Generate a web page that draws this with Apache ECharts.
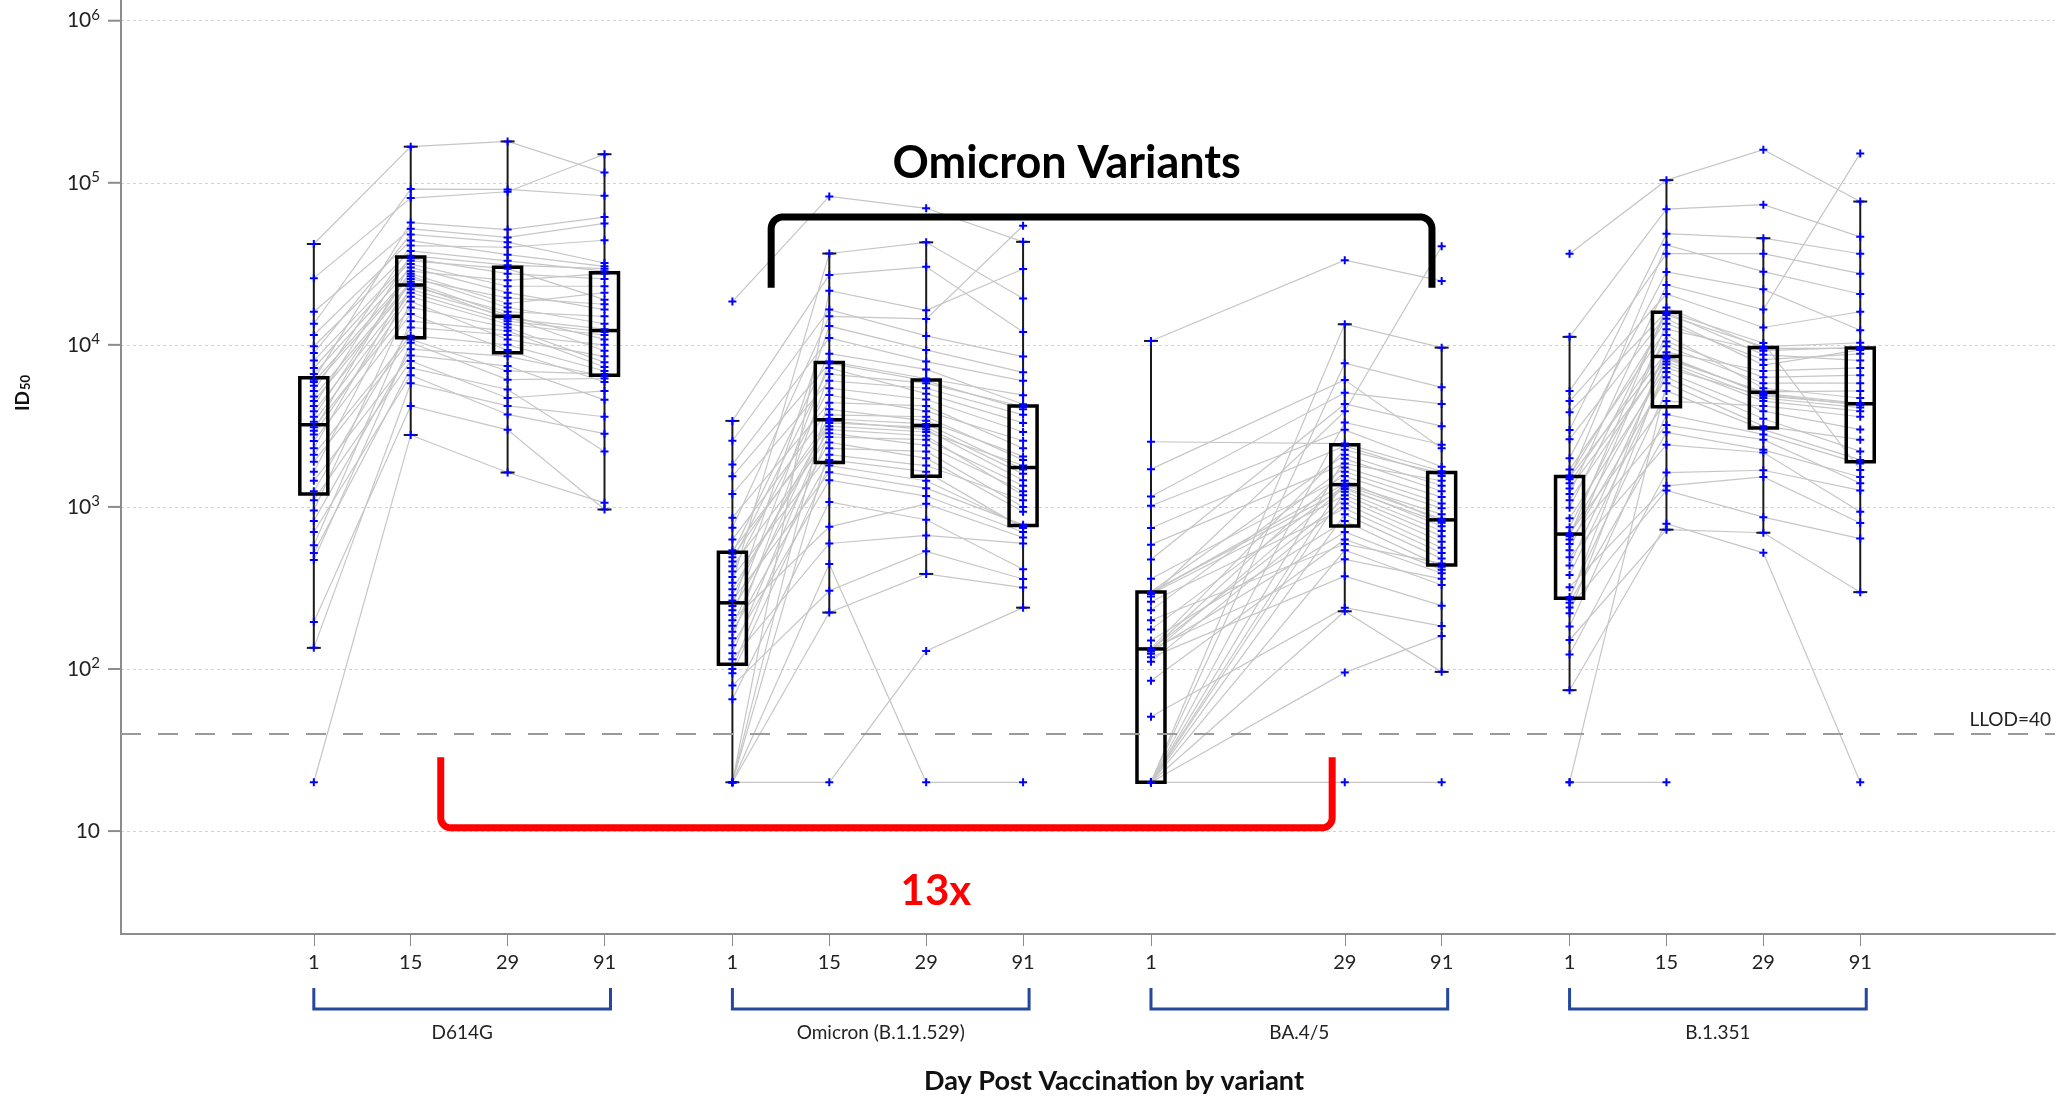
<!DOCTYPE html>
<html>
<head>
<meta charset="utf-8">
<title>ID50 by variant and day post vaccination</title>
<script src="https://cdn.jsdelivr.net/npm/echarts@6.0.0/dist/echarts.min.js"></script>
<style>
html,body{margin:0;padding:0;background:#ffffff;}
#chart{width:2062px;height:1097px;}
</style>
</head>
<body>
<div id="chart"></div>
<script>
// ---------- categories / tick labels ----------
const variants = ['D614G', 'Omicron (B.1.1.529)', 'BA.4/5', 'B.1.351'];
const dayLabels = ['1', '15', '29', '91'];
const variantDayIdx = [[0, 1, 2, 3], [0, 1, 2, 3], [0, 2, 3], [0, 1, 2, 3]];
const yTickValues = [10, 100, 1000, 10000, 100000, 1000000];
const llodValue = 40;
const llodText = 'LLOD=40';
const xTitle = 'Day Post Vaccination by variant';
const omicronTitle = 'Omicron Variants';
const foldText = '13x';

// ---------- individual titres (index = participant) ----------
const d614g_d1 = [20,135,195,470,520,580,700,820,950,1100,1250,1450,1650,1900,2100,2300,2550,2800,2950,3100,3350,3600,3900,4200,4500,4800,5200,5600,5900,6100,6600,7200,8000,8900,9800,11500,13500,16000,25800,41900];
const d614g_d15 = [2780,5800,4200,10300,7200,14000,6500,9400,18500,7960,12800,8600,23000,10800,11400,25500,15500,19800,31500,17000,21000,28500,22000,35500,23800,24500,41000,26500,27500,56800,30000,33000,34200,48000,38000,44000,91400,52000,80500,167000];
const d614g_d29 = [1630,4200,2990,6100,5300,12200,3720,8500,10800,4700,11500,7400,16000,6900,10000,19500,9300,13400,23000,12800,14000,25000,14900,31000,14500,15200,40000,17000,18000,51400,21000,29500,27500,43000,33000,36000,91000,46000,88000,180000];
const d614g_d91 = [1060,3600,964,6200,2200,7300,2830,6400,8500,5200,10000,4580,15000,6600,6900,17800,5900,11500,23000,7800,12000,27500,9200,29500,12500,10800,44200,13500,21000,61400,16500,19000,25500,32000,28500,30500,83200,56100,150000,115600];

const omi_d1 = [20,20,20,20,20,20,65,79,94,100,115,125,140,155,170,185,200,215,230,245,265,285,310,340,370,400,430,460,490,515,540,629,745,858,1200,1545,1830,2560,3395,18500];
const omi_d15 = [20,444,223,2300,4900,21600,1073,304,1800,2850,595,3300,1462,6600,1950,3700,754,7900,2500,13060,1635,3400,3000,36600,2100,5400,2700,7200,3500,8810,3150,4000,15000,4400,6000,7700,11030,16500,27000,82400];
const omi_d29 = [129,20,386,2200,3900,16340,834,532,1450,2400,667,3100,1167,5800,1650,3600,1045,6200,2000,9310,1306,3000,2750,42900,1800,4600,2600,5000,3250,7050,2900,3400,14450,4200,5400,6000,7880,11350,30300,69600];
const omi_d91 = [239,20,318,1000,2560,29400,413,359,760,1250,595,1600,700,4150,740,1950,648,4890,933,6770,775,1462,1180,19300,1100,2900,1350,3300,1700,4300,1800,2050,54300,2300,3700,4000,6000,8470,12000,43200];

const ba45_d1 = [20,20,20,20,20,20,20,20,20,20,20,50.7,84.5,111,118,124,128,131,132,133,134,150,175,200,230,260,280,290,295,298,300,360,474,585,741,1017,1160,1710,2524,10570];
const ba45_d29 = [20,95,227,540,900,1240,1450,1980,3320,7710,13400,239,630,1050,374,1330,700,1650,1120,475,2250,820,1360,590,1750,980,3890,1180,1390,1290,2100,1550,4320,1850,2380,2990,5060,6080,2460,33300];
const ba45_d91 = [20,160,96,330,480,710,820,1250,2420,5470,9610,184,390,560,246,760,410,1050,610,360,1610,428,845,448,1150,520,40600,660,900,800,1350,980,3150,1450,1550,1770,4320,2300,1660,24800];

const b1351_d1 = [20,20,74,123,151,183,221,240,256,268,278,320,380,435,490,540,590,630,660,675,685,750,850,990,1100,1200,1300,1400,1480,1520,1560,1700,2000,2620,2980,3840,4500,5200,11200,36500];
const b1351_d15 = [20,5800,787,1630,724,3720,7600,1265,2885,9800,5200,1350,6800,8400,2415,13500,6300,3200,17000,7900,4500,11500,7200,15800,8560,23400,8200,10500,41400,9000,14500,12500,28200,15300,48500,16000,20600,36500,68700,103800];
const b1351_d29 = [null,3150,521,1684,693,2800,4500,865,2250,5800,3000,1532,3900,5020,2167,8100,3500,2600,9500,4700,4200,5400,4850,8700,4950,16500,5120,6300,28300,6900,7500,9200,22000,9750,45500,10260,12800,36500,73300,160000];
const b1351_d91 = [null,2600,20,1265,298,1850,3900,638,1530,5800,1950,796,3000,4360,933,8800,2200,1400,9500,4100,3600,4700,4300,8000,4250,151800,5200,6500,20600,7200,9300,9650,12300,10300,36500,1690,16000,27500,46400,76600];

// ---------- box plot statistics [whisker low, Q1, median, Q3, whisker high] ----------
const boxD614G = [[135,1203,3215,6260,41900],[2780,11060,23400,34800,167000],[1630,8930,15000,30100,180000],[964,6490,12250,27900,150000]];
const boxOmicron = [[20,107,256,526,3395],[223,1882,3450,7790,36600],[386,1547,3175,6080,42900],[239,767,1750,4200,43200]];
const boxBA45 = [[20,20,133,299,10570],[227,762,1373,2420,13400],[96,438,832,1633,9610]];
const boxB1351 = [[74,273,680,1540,11200],[724,4150,8480,15900,103800],[693,3074,5100,9620,45500],[298,1897,4330,9570,76600]];

// ---------- layout (not data) ----------
const GROUP_STEP = 4.32;
const X_MIN = -1.99, X_MAX = 17.97;
const Y_MIN = 2.317, Y_MAX = 1.342e6;
const FONT = 'Lato, "Open Sans", sans-serif';
const omicronSpanX = [4.72, 11.54], omicronSpanY = [22500, 61600], omicronTitleAt = [7.77, 130800];
const foldSpanX = [1.31, 10.51], foldSpanY = [28.5, 10.48], foldTextAt = [6.42, 4.24];

const groups = [
  { values: [d614g_d1, d614g_d15, d614g_d29, d614g_d91], box: boxD614G },
  { values: [omi_d1, omi_d15, omi_d29, omi_d91], box: boxOmicron },
  { values: [ba45_d1, ba45_d29, ba45_d91], box: boxBA45 },
  { values: [b1351_d1, b1351_d15, b1351_d29, b1351_d91], box: boxB1351 }
];
function slotX(g, d) { return g * GROUP_STEP + d; }

const slotPos = [], slotText = [];
const scatterData = [], lineData = [], boxData = [];
groups.forEach((grp, g) => {
  const days = variantDayIdx[g];
  days.forEach((d, k) => {
    const x = slotX(g, d);
    slotPos.push(x); slotText.push(dayLabels[d]);
    grp.values[k].forEach(v => { if (v != null) scatterData.push([x, v]); });
    boxData.push([x].concat(grp.box[k]));
  });
  const n = grp.values[0].length;
  for (let i = 0; i < n; i++) {
    const coords = [];
    days.forEach((d, k) => { const v = grp.values[k][i]; if (v != null) coords.push([slotX(g, d), v]); });
    if (coords.length > 1) lineData.push({ coords: coords });
  }
});

const plusPath = 'path://M0,6H16V10H0Z M6,0H10V16H6Z';

function yLabel(v) {
  const e = Math.log10(v);
  const r = Math.round(e);
  if (Math.abs(e - r) > 1e-6 || r < 1) return '';
  return r === 1 ? '{b|10}' : '{b|10}{s|' + r + '}';
}

const chart = echarts.init(document.getElementById('chart'), null, { renderer: 'canvas' });

const option = {
  animation: false,
  backgroundColor: '#ffffff',
  grid: { left: 121, right: 7, top: 0, bottom: 163, containLabel: false },
  xAxis: {
    type: 'value', min: X_MIN, max: X_MAX,
    axisLine: { show: true, onZero: false, lineStyle: { color: '#8c8c8c', width: 2 } },
    axisTick: { show: true, customValues: slotPos, length: 12, lineStyle: { color: '#8c8c8c', width: 1 } },
    axisLabel: {
      show: true, customValues: slotPos, margin: 19,
      fontSize: 20, fontFamily: FONT, color: '#222',
      formatter: function (v) { const i = slotPos.findIndex(p => Math.abs(p - v) < 1e-6); return i >= 0 ? slotText[i] : ''; }
    },
    splitLine: { show: false }
  },
  yAxis: {
    type: 'log', logBase: 10, min: Y_MIN, max: Y_MAX,
    axisLine: { show: true, onZero: false, lineStyle: { color: '#8c8c8c', width: 2 } },
    axisTick: { show: false },
    axisLabel: {
      show: true, margin: 21, formatter: yLabel,
      rich: {
        b: { fontSize: 21, fontFamily: FONT, color: '#222', lineHeight: 26 },
        s: { fontSize: 15, fontFamily: FONT, color: '#222', verticalAlign: 'top' }
      }
    },
    splitLine: { show: true, showMinLine: false, showMaxLine: false, lineStyle: { color: '#d2d2d2', width: 1, type: [3, 3] } },
    minorTick: { show: false }, minorSplitLine: { show: false }
  },
  series: [
    {
      name: 'participants', type: 'lines', coordinateSystem: 'cartesian2d', polyline: true,
      data: lineData, silent: true, z: 1,
      lineStyle: { color: '#c6c6c6', width: 1.2, opacity: 1 }
    },
    {
      name: 'box', type: 'custom', data: boxData, z: 3, silent: true,
      encode: { x: 0, y: [1, 2, 3, 4, 5] },
      renderItem: function (params, api) {
        const x = api.value(0);
        const lo = api.coord([x, api.value(1)]);
        const q1 = api.coord([x, api.value(2)]);
        const md = api.coord([x, api.value(3)]);
        const q3 = api.coord([x, api.value(4)]);
        const hi = api.coord([x, api.value(5)]);
        const cx = lo[0], hw = 14, cw = 7;
        const wStyle = { stroke: '#1a1a1a', lineWidth: 2 };
        return {
          type: 'group', children: [
            { type: 'line', shape: { x1: cx, y1: q1[1], x2: cx, y2: lo[1] }, style: wStyle },
            { type: 'line', shape: { x1: cx, y1: q3[1], x2: cx, y2: hi[1] }, style: wStyle },
            { type: 'line', shape: { x1: cx - cw, y1: lo[1], x2: cx + cw, y2: lo[1] }, style: wStyle },
            { type: 'line', shape: { x1: cx - cw, y1: hi[1], x2: cx + cw, y2: hi[1] }, style: wStyle },
            { type: 'rect', shape: { x: cx - hw, y: q3[1], width: 2 * hw, height: q1[1] - q3[1] }, style: { fill: 'none', stroke: '#000', lineWidth: 3.5 } },
            { type: 'line', shape: { x1: cx - hw, y1: md[1], x2: cx + hw, y2: md[1] }, style: { stroke: '#000', lineWidth: 3.5 } }
          ]
        };
      }
    },
    {
      name: 'yTicks', type: 'custom', silent: true, z: 5, clip: false,
      data: yTickValues.map(v => [X_MIN, v]), encode: { x: 0, y: 1 },
      renderItem: function (params, api) {
        const c = api.coord([api.value(0), api.value(1)]);
        return { type: 'line', shape: { x1: c[0] - 13, y1: c[1], x2: c[0], y2: c[1] }, style: { stroke: '#8c8c8c', lineWidth: 2 } };
      }
    },
    {
      name: 'ID50', type: 'scatter', data: scatterData, z: 4, silent: true,
      symbol: plusPath, symbolSize: 8,
      itemStyle: { color: '#0000ff', opacity: 1 },
      markLine: {
        silent: true, symbol: 'none', animation: false,
        lineStyle: { color: '#9a9a9a', width: 2, type: [20, 17] },
        label: { show: true, position: 'insideEndTop', formatter: llodText, fontSize: 19, fontFamily: FONT, color: '#222', distance: [4, 4] },
        data: [{ yAxis: llodValue }]
      }
    }
  ]
};
chart.setOption(option);

function roundedBracket(x1, x2, yEnd, yBar, r) {
  const dir = yEnd > yBar ? 1 : -1;
  const pts = [[x1, yEnd]];
  const N = 10;
  for (let j = 0; j <= N; j++) { const t = j / N * Math.PI / 2; pts.push([x1 + r - r * Math.cos(t), yBar + dir * (r - r * Math.sin(t))]); }
  for (let j = 0; j <= N; j++) { const t = j / N * Math.PI / 2; pts.push([x2 - r + r * Math.sin(t), yBar + dir * (r - r * Math.cos(t))]); }
  pts.push([x2, yEnd]);
  return pts;
}

function annotate() {
  const P = (x, y) => chart.convertToPixel({ gridIndex: 0 }, [x, y]);
  const els = [];
  const axisY = P(0, Y_MIN)[1];

  // Omicron variants bracket
  const a1 = P(omicronSpanX[0], omicronSpanY[0]), a2 = P(omicronSpanX[1], omicronSpanY[1]);
  els.push({ type: 'polyline', z: 20, silent: true, shape: { points: roundedBracket(a1[0], a2[0], a1[1], a2[1], 12) },
    style: { stroke: '#000', lineWidth: 7, fill: null, lineJoin: 'round' } });
  const at = P(omicronTitleAt[0], omicronTitleAt[1]);
  els.push({ type: 'text', z: 20, silent: true, x: at[0], y: at[1],
    style: { text: omicronTitle, fontSize: 45, fontWeight: 'bold', fontFamily: FONT, fill: '#000', align: 'center', verticalAlign: 'middle' } });

  // fold-change bracket
  const f1 = P(foldSpanX[0], foldSpanY[0]), f2 = P(foldSpanX[1], foldSpanY[1]);
  els.push({ type: 'polyline', z: 20, silent: true, shape: { points: roundedBracket(f1[0], f2[0], f1[1], f2[1], 10) },
    style: { stroke: '#ff0000', lineWidth: 7, fill: null, lineJoin: 'round' } });
  const ft = P(foldTextAt[0], foldTextAt[1]);
  els.push({ type: 'text', z: 20, silent: true, x: ft[0], y: ft[1],
    style: { text: foldText, fontSize: 42, fontWeight: 'bold', fontFamily: FONT, fill: '#ff0000', align: 'center', verticalAlign: 'middle' } });

  // variant brackets under the axis
  variants.forEach((name, g) => {
    const days = variantDayIdx[g];
    const x1 = P(slotX(g, days[0]), Y_MIN)[0];
    const x2 = P(slotX(g, days[days.length - 1]), Y_MIN)[0] + 6;
    const yt = axisY + 54, yb = axisY + 75;
    els.push({ type: 'polyline', silent: true, shape: { points: [[x1, yt], [x1, yb], [x2, yb], [x2, yt]] },
      style: { stroke: '#24489b', lineWidth: 3, fill: null } });
    els.push({ type: 'text', silent: true, x: (x1 + x2) / 2, y: axisY + 99,
      style: { text: name, fontSize: 19, fontFamily: FONT, fill: '#222', align: 'center', verticalAlign: 'middle' } });
  });

  // axis titles
  els.push({ type: 'text', silent: true, x: 1114, y: axisY + 147,
    style: { text: xTitle, fontSize: 27, fontWeight: 'bold', fontFamily: FONT, fill: '#111', align: 'center', verticalAlign: 'middle' } });
  els.push({ type: 'text', silent: true, x: 23, y: 393, rotation: Math.PI / 2,
    style: { text: '{a|ID}{b|50}', align: 'center', verticalAlign: 'middle',
      rich: { a: { fontSize: 19, fontWeight: 'bold', fontFamily: FONT, fill: '#111', color: '#111' },
              b: { fontSize: 13, fontWeight: 'bold', fontFamily: FONT, fill: '#111', color: '#111', verticalAlign: 'bottom', padding: [6, 0, 0, 1] } } } });

  chart.setOption({ graphic: { elements: els } });
}
annotate();
</script>
</body>
</html>
